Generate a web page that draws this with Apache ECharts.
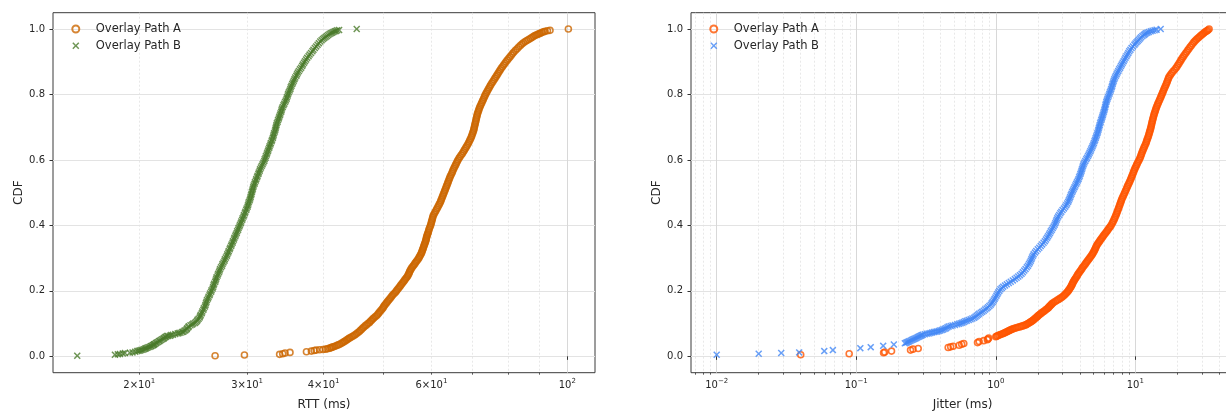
<!DOCTYPE html>
<html><head><meta charset="utf-8">
<script src="https://cdn.jsdelivr.net/npm/echarts@6/dist/echarts.min.js"></script>
<style>html,body{margin:0;padding:0;background:#fff}#c{width:1226px;height:411px}</style>
</head><body><div id="c"></div>
<script>
// ---- data: [value, cdf] ----
const seriesNames = ['Overlay Path A', 'Overlay Path B'];
const rttA = [[26.6,0.002],[29.7,0.004],[33.9,0.006],[34.3,0.008],[34.6,0.010],[35.25,0.012],[37.5,0.014],[38.2,0.016],[38.6,0.018],[38.9,0.019],[39.4,0.020],[39.9,0.021],[40.3,0.022],[40.6,0.023],[40.9,0.025],[41.1,0.026],[41.3,0.028],[41.5,0.029],[41.75,0.031],[42.0,0.033],[42.25,0.035],[42.5,0.037],[42.75,0.040],[43.0,0.042],[43.2,0.045],[43.4,0.047],[43.6,0.050],[43.8,0.052],[44.0,0.055],[44.2,0.057],[44.45,0.060],[44.7,0.062],[44.95,0.065],[45.2,0.068],[45.45,0.072],[45.7,0.075],[45.9,0.079],[46.1,0.082],[46.3,0.086],[46.5,0.089],[46.75,0.093],[47.0,0.096],[47.25,0.100],[47.5,0.103],[47.7,0.107],[47.9,0.110],[48.1,0.114],[48.3,0.117],[48.55,0.121],[48.8,0.124],[49.0,0.128],[49.2,0.132],[49.4,0.136],[49.6,0.140],[49.8,0.144],[50.0,0.148],[50.15,0.152],[50.3,0.156],[50.5,0.160],[50.7,0.164],[50.9,0.168],[51.1,0.172],[51.3,0.176],[51.5,0.180],[51.7,0.184],[51.9,0.188],[52.15,0.192],[52.4,0.196],[52.6,0.200],[52.8,0.204],[53.0,0.208],[53.2,0.212],[53.4,0.216],[53.6,0.220],[53.8,0.224],[54.0,0.228],[54.2,0.232],[54.4,0.236],[54.6,0.240],[54.8,0.244],[54.95,0.248],[55.1,0.252],[55.2,0.256],[55.3,0.260],[55.45,0.264],[55.6,0.268],[55.8,0.272],[56.0,0.276],[56.2,0.280],[56.4,0.284],[56.6,0.288],[56.8,0.292],[57.0,0.296],[57.2,0.300],[57.35,0.304],[57.5,0.308],[57.65,0.312],[57.8,0.316],[57.9,0.320],[58.0,0.324],[58.1,0.328],[58.2,0.332],[58.3,0.336],[58.4,0.340],[58.5,0.344],[58.6,0.348],[58.7,0.352],[58.8,0.356],[58.85,0.360],[58.9,0.364],[59.0,0.368],[59.1,0.372],[59.2,0.376],[59.3,0.380],[59.4,0.385],[59.5,0.390],[59.65,0.395],[59.8,0.400],[59.9,0.405],[60.0,0.410],[60.1,0.415],[60.2,0.420],[60.3,0.425],[60.4,0.430],[60.6,0.435],[60.8,0.440],[61.0,0.445],[61.2,0.450],[61.4,0.455],[61.6,0.460],[61.8,0.465],[62.0,0.470],[62.15,0.475],[62.3,0.480],[62.45,0.485],[62.6,0.490],[62.75,0.495],[62.9,0.500],[63.05,0.505],[63.2,0.510],[63.35,0.515],[63.5,0.520],[63.65,0.525],[63.8,0.530],[63.95,0.535],[64.1,0.540],[64.25,0.545],[64.4,0.550],[64.6,0.555],[64.8,0.560],[64.95,0.565],[65.1,0.570],[65.3,0.575],[65.5,0.580],[65.7,0.585],[65.9,0.590],[66.1,0.595],[66.3,0.600],[66.55,0.605],[66.8,0.610],[67.1,0.615],[67.4,0.620],[67.65,0.625],[67.9,0.630],[68.15,0.635],[68.4,0.640],[68.65,0.645],[68.9,0.650],[69.1,0.655],[69.3,0.660],[69.5,0.665],[69.7,0.670],[69.85,0.675],[70.0,0.680],[70.15,0.685],[70.3,0.690],[70.4,0.695],[70.5,0.700],[70.6,0.705],[70.7,0.710],[70.8,0.715],[70.9,0.720],[71.0,0.725],[71.1,0.730],[71.2,0.735],[71.3,0.740],[71.45,0.745],[71.6,0.750],[71.75,0.755],[71.9,0.760],[72.1,0.765],[72.3,0.770],[72.5,0.775],[72.7,0.780],[72.9,0.785],[73.1,0.790],[73.3,0.795],[73.5,0.800],[73.75,0.805],[74.0,0.810],[74.25,0.815],[74.5,0.820],[74.75,0.825],[75.0,0.830],[75.3,0.835],[75.6,0.840],[75.9,0.845],[76.2,0.850],[76.5,0.855],[76.8,0.860],[77.1,0.865],[77.4,0.870],[77.7,0.875],[78.0,0.880],[78.35,0.885],[78.7,0.890],[79.05,0.895],[79.4,0.900],[79.8,0.905],[80.2,0.910],[80.6,0.915],[81.0,0.920],[81.4,0.925],[81.8,0.930],[82.3,0.935],[82.8,0.940],[83.3,0.945],[83.8,0.950],[84.3,0.954],[84.8,0.958],[85.35,0.962],[85.9,0.965],[86.45,0.968],[87.0,0.971],[87.5,0.974],[88.0,0.977],[88.5,0.980],[89.0,0.982],[89.5,0.984],[90.0,0.986],[90.5,0.988],[91.0,0.990],[91.5,0.992],[92.0,0.993],[92.8,0.995],[93.7,0.996],[100.4,1.0]];
const rttB = [[15.84,0.002],[18.25,0.005],[18.45,0.006],[18.6,0.007],[18.8,0.009],[18.95,0.010],[19.3,0.011],[19.5,0.012],[19.7,0.014],[19.85,0.016],[19.95,0.017],[20.05,0.018],[20.15,0.019],[20.25,0.020],[20.35,0.022],[20.45,0.023],[20.5,0.025],[20.6,0.026],[20.7,0.028],[20.8,0.029],[20.9,0.031],[20.95,0.032],[21.05,0.034],[21.1,0.035],[21.15,0.037],[21.2,0.038],[21.3,0.040],[21.35,0.042],[21.45,0.044],[21.55,0.046],[21.6,0.048],[21.7,0.050],[21.8,0.052],[21.9,0.054],[21.95,0.056],[22.05,0.058],[22.1,0.060],[22.2,0.062],[22.3,0.062],[22.45,0.063],[22.55,0.065],[22.7,0.066],[22.9,0.068],[23.1,0.070],[23.2,0.071],[23.35,0.072],[23.5,0.074],[23.6,0.075],[23.7,0.078],[23.8,0.080],[23.9,0.083],[23.95,0.086],[24.05,0.089],[24.1,0.092],[24.25,0.095],[24.4,0.097],[24.5,0.100],[24.65,0.102],[24.75,0.105],[24.85,0.108],[24.9,0.112],[25.0,0.115],[25.1,0.119],[25.15,0.123],[25.2,0.127],[25.3,0.132],[25.35,0.137],[25.45,0.142],[25.5,0.147],[25.6,0.152],[25.65,0.157],[25.7,0.162],[25.75,0.167],[25.8,0.172],[25.9,0.177],[25.95,0.182],[26.05,0.187],[26.1,0.192],[26.2,0.197],[26.25,0.202],[26.35,0.207],[26.4,0.212],[26.45,0.217],[26.5,0.222],[26.6,0.227],[26.65,0.232],[26.7,0.237],[26.75,0.242],[26.85,0.247],[26.9,0.252],[27.0,0.257],[27.05,0.262],[27.1,0.267],[27.2,0.272],[27.3,0.277],[27.35,0.282],[27.45,0.287],[27.55,0.292],[27.6,0.297],[27.7,0.302],[27.8,0.307],[27.85,0.312],[27.95,0.317],[28.0,0.322],[28.1,0.327],[28.15,0.332],[28.25,0.337],[28.3,0.342],[28.4,0.347],[28.45,0.352],[28.55,0.357],[28.6,0.362],[28.7,0.367],[28.75,0.372],[28.85,0.377],[28.9,0.382],[29.0,0.387],[29.05,0.392],[29.15,0.397],[29.2,0.402],[29.3,0.407],[29.35,0.412],[29.45,0.417],[29.5,0.422],[29.6,0.427],[29.65,0.432],[29.75,0.437],[29.8,0.442],[29.9,0.447],[29.95,0.452],[30.05,0.457],[30.1,0.462],[30.15,0.467],[30.2,0.472],[30.3,0.477],[30.35,0.482],[30.4,0.487],[30.45,0.492],[30.5,0.497],[30.55,0.502],[30.6,0.507],[30.65,0.512],[30.7,0.517],[30.75,0.522],[30.85,0.527],[30.9,0.532],[31.0,0.537],[31.05,0.542],[31.15,0.547],[31.2,0.552],[31.3,0.557],[31.35,0.562],[31.45,0.567],[31.5,0.572],[31.6,0.577],[31.7,0.582],[31.8,0.587],[31.9,0.592],[32.0,0.597],[32.05,0.602],[32.15,0.607],[32.2,0.612],[32.3,0.617],[32.35,0.622],[32.45,0.627],[32.5,0.632],[32.6,0.637],[32.65,0.642],[32.75,0.647],[32.8,0.652],[32.9,0.657],[32.95,0.662],[33.05,0.667],[33.1,0.672],[33.15,0.677],[33.2,0.682],[33.3,0.687],[33.35,0.692],[33.4,0.697],[33.45,0.702],[33.5,0.707],[33.55,0.712],[33.65,0.717],[33.7,0.722],[33.8,0.727],[33.85,0.732],[33.95,0.737],[34.0,0.742],[34.1,0.747],[34.15,0.752],[34.2,0.757],[34.3,0.762],[34.4,0.767],[34.5,0.772],[34.6,0.777],[34.7,0.782],[34.8,0.787],[34.85,0.792],[34.95,0.797],[35.0,0.802],[35.1,0.807],[35.2,0.812],[35.3,0.817],[35.35,0.822],[35.45,0.827],[35.55,0.832],[35.65,0.837],[35.75,0.842],[35.85,0.847],[35.95,0.852],[36.1,0.857],[36.2,0.862],[36.3,0.867],[36.45,0.872],[36.6,0.877],[36.75,0.882],[36.9,0.887],[37.0,0.892],[37.15,0.897],[37.3,0.902],[37.45,0.907],[37.6,0.912],[37.8,0.917],[37.95,0.922],[38.15,0.927],[38.35,0.932],[38.5,0.937],[38.7,0.942],[38.9,0.947],[39.1,0.952],[39.3,0.957],[39.5,0.962],[39.7,0.966],[39.9,0.970],[40.1,0.973],[40.3,0.976],[40.5,0.979],[40.7,0.982],[40.9,0.985],[41.1,0.987],[41.3,0.989],[41.5,0.991],[41.7,0.993],[41.9,0.994],[42.1,0.996],[42.4,0.997],[45.3,1.0]];
const jitA = [[0.040,0.005],[0.089,0.008],[0.157,0.011],[0.160,0.013],[0.179,0.016],[0.245,0.019],[0.255,0.022],[0.278,0.024],[0.456,0.027],[0.475,0.029],[0.495,0.031],[0.547,0.034],[0.57,0.037],[0.59,0.039],[0.74,0.042],[0.76,0.045],[0.82,0.048],[0.87,0.051],[0.88,0.053],[0.89,0.056],[1.00,0.060],[1.015,0.0615],[1.03,0.063],[1.05,0.0645],[1.07,0.066],[1.095,0.0675],[1.12,0.069],[1.14,0.0705],[1.16,0.072],[1.18,0.0735],[1.20,0.075],[1.22,0.0765],[1.24,0.078],[1.26,0.0795],[1.28,0.081],[1.305,0.0825],[1.33,0.084],[1.365,0.0855],[1.40,0.087],[1.44,0.0885],[1.48,0.090],[1.52,0.0915],[1.56,0.093],[1.60,0.0945],[1.64,0.096],[1.67,0.098],[1.70,0.100],[1.73,0.102],[1.76,0.104],[1.79,0.106],[1.82,0.108],[1.845,0.110],[1.87,0.112],[1.90,0.1145],[1.93,0.117],[1.96,0.1195],[1.99,0.122],[2.02,0.1245],[2.05,0.127],[2.085,0.1295],[2.12,0.132],[2.16,0.1345],[2.20,0.137],[2.24,0.1395],[2.28,0.142],[2.32,0.1445],[2.36,0.147],[2.39,0.1495],[2.42,0.152],[2.45,0.1545],[2.48,0.157],[2.515,0.1595],[2.55,0.162],[2.61,0.165],[2.68,0.168],[2.75,0.171],[2.82,0.174],[2.89,0.177],[2.96,0.180],[3.02,0.183],[3.08,0.186],[3.13,0.189],[3.18,0.192],[3.23,0.195],[3.28,0.198],[3.32,0.2015],[3.37,0.205],[3.41,0.2085],[3.45,0.212],[3.485,0.2155],[3.52,0.219],[3.55,0.2225],[3.58,0.226],[3.62,0.2295],[3.66,0.233],[3.70,0.2365],[3.75,0.240],[3.80,0.244],[3.85,0.248],[3.9,0.252],[3.96,0.256],[4.02,0.260],[4.08,0.264],[4.14,0.268],[4.20,0.272],[4.27,0.276],[4.34,0.280],[4.41,0.284],[4.48,0.288],[4.55,0.292],[4.62,0.296],[4.70,0.300],[4.78,0.304],[4.85,0.308],[4.92,0.312],[4.98,0.316],[5.05,0.320],[5.10,0.324],[5.15,0.328],[5.20,0.332],[5.25,0.336],[5.31,0.340],[5.38,0.344],[5.46,0.348],[5.55,0.352],[5.63,0.356],[5.72,0.360],[5.81,0.364],[5.90,0.368],[6.0,0.372],[6.10,0.376],[6.2,0.380],[6.30,0.384],[6.4,0.388],[6.50,0.392],[6.6,0.396],[6.70,0.400],[6.8,0.405],[6.90,0.410],[6.99,0.415],[7.08,0.420],[7.16,0.425],[7.25,0.430],[7.32,0.435],[7.40,0.440],[7.47,0.445],[7.55,0.450],[7.62,0.455],[7.70,0.460],[7.77,0.465],[7.85,0.470],[7.92,0.475],[8.00,0.480],[8.10,0.485],[8.20,0.490],[8.30,0.495],[8.40,0.500],[8.50,0.505],[8.60,0.510],[8.70,0.515],[8.80,0.520],[8.91,0.525],[9.03,0.530],[9.14,0.535],[9.25,0.540],[9.35,0.545],[9.45,0.550],[9.55,0.555],[9.65,0.560],[9.75,0.565],[9.85,0.570],[9.97,0.575],[10.1,0.580],[10.22,0.585],[10.35,0.590],[10.5,0.595],[10.65,0.600],[10.78,0.605],[10.9,0.610],[11.0,0.615],[11.1,0.620],[11.22,0.625],[11.35,0.630],[11.47,0.635],[11.6,0.640],[11.75,0.645],[11.9,0.650],[12.0,0.655],[12.1,0.660],[12.22,0.665],[12.35,0.670],[12.45,0.675],[12.55,0.680],[12.65,0.685],[12.75,0.690],[12.85,0.695],[12.95,0.700],[13.02,0.705],[13.1,0.710],[13.18,0.715],[13.27,0.720],[13.36,0.725],[13.45,0.730],[13.55,0.735],[13.65,0.740],[13.77,0.745],[13.9,0.750],[14.02,0.755],[14.15,0.760],[14.3,0.765],[14.45,0.770],[14.62,0.775],[14.8,0.780],[14.97,0.785],[15.15,0.790],[15.32,0.795],[15.5,0.800],[15.67,0.805],[15.85,0.810],[16.02,0.815],[16.2,0.820],[16.4,0.825],[16.6,0.830],[16.77,0.835],[16.95,0.840],[17.12,0.845],[17.3,0.850],[17.5,0.855],[17.85,0.860],[18.2,0.865],[18.6,0.870],[19.05,0.875],[19.5,0.880],[19.85,0.885],[20.2,0.890],[20.55,0.895],[20.9,0.900],[21.25,0.905],[21.6,0.910],[22.0,0.915],[22.4,0.920],[22.85,0.925],[23.3,0.930],[23.75,0.935],[24.2,0.940],[24.7,0.945],[25.2,0.950],[25.75,0.955],[26.3,0.960],[26.85,0.964],[27.4,0.968],[28.0,0.972],[28.6,0.975],[29.2,0.979],[29.8,0.982],[30.4,0.985],[31.0,0.988],[31.6,0.991],[32.2,0.993],[32.7,0.995],[33.2,0.997],[33.8,1.0]];
const jitB = [[0.010,0.005],[0.020,0.008],[0.029,0.010],[0.039,0.012],[0.059,0.016],[0.068,0.019],[0.107,0.025],[0.127,0.028],[0.156,0.032],[0.186,0.036],[0.223,0.040],[0.228,0.0415],[0.232,0.043],[0.236,0.0445],[0.24,0.046],[0.245,0.048],[0.25,0.050],[0.255,0.0515],[0.26,0.053],[0.265,0.0545],[0.27,0.056],[0.275,0.058],[0.28,0.060],[0.285,0.0615],[0.29,0.063],[0.295,0.0645],[0.30,0.066],[0.31,0.0675],[0.32,0.069],[0.33,0.070],[0.34,0.071],[0.35,0.0725],[0.36,0.074],[0.37,0.075],[0.38,0.076],[0.39,0.0775],[0.40,0.079],[0.41,0.0805],[0.42,0.082],[0.43,0.084],[0.44,0.086],[0.45,0.0885],[0.46,0.091],[0.475,0.0925],[0.49,0.094],[0.51,0.096],[0.53,0.098],[0.545,0.0995],[0.56,0.101],[0.575,0.103],[0.59,0.105],[0.605,0.107],[0.62,0.109],[0.64,0.111],[0.66,0.113],[0.68,0.1155],[0.70,0.118],[0.715,0.121],[0.73,0.124],[0.745,0.127],[0.76,0.130],[0.78,0.133],[0.80,0.136],[0.82,0.1395],[0.84,0.143],[0.86,0.1465],[0.88,0.150],[0.90,0.154],[0.92,0.158],[0.935,0.162],[0.95,0.166],[0.965,0.1705],[0.98,0.175],[0.995,0.180],[1.01,0.185],[1.025,0.190],[1.04,0.195],[1.06,0.200],[1.08,0.205],[1.105,0.209],[1.13,0.213],[1.165,0.2165],[1.20,0.220],[1.24,0.224],[1.28,0.228],[1.325,0.232],[1.37,0.236],[1.41,0.240],[1.45,0.244],[1.49,0.248],[1.53,0.252],[1.565,0.257],[1.60,0.262],[1.635,0.267],[1.67,0.272],[1.70,0.277],[1.73,0.282],[1.755,0.287],[1.78,0.292],[1.80,0.297],[1.82,0.302],[1.845,0.307],[1.87,0.312],[1.91,0.317],[1.95,0.322],[2.0,0.327],[2.05,0.332],[2.10,0.337],[2.15,0.342],[2.20,0.347],[2.25,0.352],[2.29,0.357],[2.33,0.362],[2.37,0.367],[2.41,0.372],[2.445,0.377],[2.48,0.382],[2.52,0.387],[2.56,0.392],[2.60,0.397],[2.64,0.402],[2.67,0.407],[2.70,0.412],[2.73,0.417],[2.76,0.422],[2.80,0.427],[2.85,0.432],[2.90,0.437],[2.95,0.442],[3.01,0.447],[3.08,0.452],[3.14,0.457],[3.20,0.462],[3.25,0.467],[3.30,0.472],[3.34,0.477],[3.38,0.482],[3.415,0.487],[3.45,0.492],[3.49,0.497],[3.53,0.502],[3.575,0.507],[3.62,0.512],[3.67,0.517],[3.72,0.522],[3.77,0.527],[3.82,0.532],[3.87,0.537],[3.92,0.542],[3.96,0.547],[4.00,0.552],[4.04,0.557],[4.08,0.562],[4.115,0.567],[4.15,0.572],[4.185,0.577],[4.22,0.582],[4.27,0.587],[4.32,0.592],[4.38,0.597],[4.45,0.602],[4.51,0.607],[4.58,0.612],[4.64,0.617],[4.70,0.622],[4.76,0.627],[4.82,0.632],[4.88,0.637],[4.94,0.642],[5.0,0.647],[5.05,0.652],[5.10,0.657],[5.15,0.662],[5.20,0.667],[5.25,0.672],[5.30,0.677],[5.35,0.682],[5.40,0.687],[5.44,0.692],[5.48,0.697],[5.52,0.702],[5.56,0.707],[5.60,0.712],[5.65,0.717],[5.70,0.722],[5.75,0.727],[5.80,0.732],[5.85,0.737],[5.90,0.742],[5.95,0.747],[6.00,0.752],[6.04,0.757],[6.08,0.762],[6.115,0.767],[6.15,0.772],[6.2,0.777],[6.25,0.782],[6.31,0.787],[6.38,0.792],[6.45,0.797],[6.52,0.802],[6.58,0.807],[6.65,0.812],[6.71,0.817],[6.78,0.822],[6.83,0.827],[6.88,0.832],[6.94,0.837],[7.00,0.842],[7.07,0.847],[7.15,0.852],[7.25,0.857],[7.35,0.862],[7.45,0.867],[7.55,0.872],[7.66,0.877],[7.78,0.882],[7.89,0.887],[8.00,0.892],[8.12,0.897],[8.25,0.902],[8.37,0.907],[8.50,0.912],[8.64,0.917],[8.78,0.922],[8.91,0.927],[9.05,0.932],[9.22,0.937],[9.40,0.942],[9.62,0.947],[9.85,0.952],[10.02,0.956],[10.2,0.960],[10.4,0.9635],[10.6,0.967],[10.8,0.971],[11.0,0.975],[11.25,0.9785],[11.5,0.982],[11.7,0.9845],[11.9,0.987],[12.2,0.989],[12.5,0.991],[12.9,0.993],[13.3,0.995],[13.75,0.9965],[14.2,0.998],[15.2,1.0]];

// ---- tick values ----
const cdfTicks = [0, 0.2, 0.4, 0.6, 0.8, 1.0];
const rttLabelTicks = [20, 30, 40, 60, 100];
const rttMajorTicks = [100];
const rttMinorTicks = [20, 30, 40, 50, 60, 70, 80, 90];
const jitMajorTicks = [0.01, 0.1, 1, 10];
const jitMinorTicks = [0.007,0.008,0.009,0.02,0.03,0.04,0.05,0.06,0.07,0.08,0.09,0.2,0.3,0.4,0.5,0.6,0.7,0.8,0.9,2,3,4,5,6,7,8,9,20,30,40,50];

const FONT = 'DejaVu Sans';
const TXT = '#262626';
const COL = { rttA: '#cc6600', rttB: '#4a7a2a', jitA: '#ff5500', jitB: '#4287f5' };
const XPATH = 'path://M0,1.5 L1.5,0 L5,3.5 L8.5,0 L10,1.5 L6.5,5 L10,8.5 L8.5,10 L5,6.5 L1.5,10 L0,8.5 L3.5,5 Z';

const fmtRtt = v => {
  const e = Math.floor(Math.log10(v) + 1e-9);
  const m = Math.round(v / Math.pow(10, e));
  return m === 1 ? `{b|10}{s|${e}}` : `{b|${m}×10}{s|${e}}`;
};
const fmtJit = v => {
  const e = Math.round(Math.log10(v));
  return `{b|10}{s|${e < 0 ? '−' + (-e) : e}}`;
};
const rich = {
  b: { fontFamily: FONT, fontSize: 10, color: TXT, lineHeight: 16 },
  s: { fontFamily: FONT, fontSize: 7, color: TXT, lineHeight: 9, verticalAlign: 'top' }
};

function xAxes(gridIndex, min, max, labelVals, majorVals, minorVals, fmt, name) {
  return [
    { type: 'log', gridIndex, min, max, position: 'bottom',
      name, nameLocation: 'middle', nameGap: 26,
      nameTextStyle: { fontFamily: FONT, fontSize: 12, color: TXT },
      axisLine: { show: false },
      axisTick: { show: true, customValues: majorVals, length: 3.5, lineStyle: { color: '#333', width: 1 } },
      axisLabel: { show: true, customValues: labelVals, formatter: fmt, margin: 5, rich },
      splitLine: { show: true, lineStyle: { color: '#d8d8d8', width: 1 } },
      minorTick: { show: false }, minorSplitLine: { show: false } },
    { type: 'log', gridIndex, min, max, position: 'bottom',
      axisLine: { show: false }, axisLabel: { show: false },
      axisTick: { show: true, customValues: minorVals, length: 2, lineStyle: { color: '#333', width: 0.8 } },
      splitLine: { show: true, lineStyle: { color: '#e2e2e2', width: 0.8, type: [2, 2] } },
      minorTick: { show: false }, minorSplitLine: { show: false } }
  ];
}
function yAxis(gridIndex) {
  return { type: 'value', gridIndex, min: -0.05, max: 1.05,
    name: 'CDF', nameLocation: 'middle', nameGap: 28.5, nameRotate: 90,
    nameTextStyle: { fontFamily: FONT, fontSize: 12, color: TXT },
    axisLine: { show: false },
    axisTick: { show: true, customValues: cdfTicks, length: 3.5, lineStyle: { color: '#333', width: 1 } },
    axisLabel: { customValues: cdfTicks, formatter: v => v.toFixed(1), margin: 8, fontFamily: FONT, fontSize: 10, color: TXT },
    splitLine: { show: true, lineStyle: { color: '#e3e3e3', width: 1 } } };
}
function circleSeries(name, data, xi, yi, color) {
  return { type: 'scatter', name, data, xAxisIndex: xi, yAxisIndex: yi, symbol: 'circle', symbolSize: 6,
    itemStyle: { color: 'rgba(255,255,255,0)', borderColor: color, borderWidth: 1.6 }, emphasis: { disabled: true } };
}
function crossSeries(name, data, xi, yi, color) {
  return { type: 'scatter', name, data, xAxisIndex: xi, yAxisIndex: yi, symbol: XPATH, symbolSize: 7,
    itemStyle: { color, borderWidth: 0 }, emphasis: { disabled: true } };
}
function legend(left, key) {
  return { orient: 'vertical', left, top: 17, itemWidth: 30, itemHeight: 7, itemGap: 2.7,
    data: seriesNames.map(n => key + '|' + n), formatter: n => n.split('|')[1],
    textStyle: { fontFamily: FONT, fontSize: 11.5, color: TXT, lineHeight: 14 }, selectedMode: false };
}

const chart = echarts.init(document.getElementById('c'), null, { renderer: 'canvas' });
chart.setOption({
  animation: false,
  backgroundColor: '#fff',
  grid: [
    { left: 53, top: 12.7, width: 542, height: 360, outerBoundsMode: 'none', containLabel: false, show: true, borderColor: '#3a3a3a', borderWidth: 1, backgroundColor: 'rgba(0,0,0,0)' },
    { left: 691, top: 12.7, width: 543, height: 360, outerBoundsMode: 'none', containLabel: false, show: true, borderColor: '#3a3a3a', borderWidth: 1, backgroundColor: 'rgba(0,0,0,0)' }
  ],
  xAxis: [
    ...xAxes(0, 14.46, 110.97, rttLabelTicks, rttMajorTicks, rttMinorTicks, fmtRtt, 'RTT (ms)'),
    ...xAxes(1, 0.006543, 50.97, jitMajorTicks, jitMajorTicks, jitMinorTicks, fmtJit, 'Jitter (ms)')
  ],
  yAxis: [yAxis(0), yAxis(1)],
  legend: [legend(66.3, 'rtt'), legend(704.3, 'jit')],
  series: [
    circleSeries('rtt|' + seriesNames[0], rttA, 0, 0, COL.rttA),
    crossSeries('rtt|' + seriesNames[1], rttB, 0, 0, COL.rttB),
    circleSeries('jit|' + seriesNames[0], jitA, 2, 1, COL.jitA),
    crossSeries('jit|' + seriesNames[1], jitB, 2, 1, COL.jitB)
  ]
});
</script></body></html>
